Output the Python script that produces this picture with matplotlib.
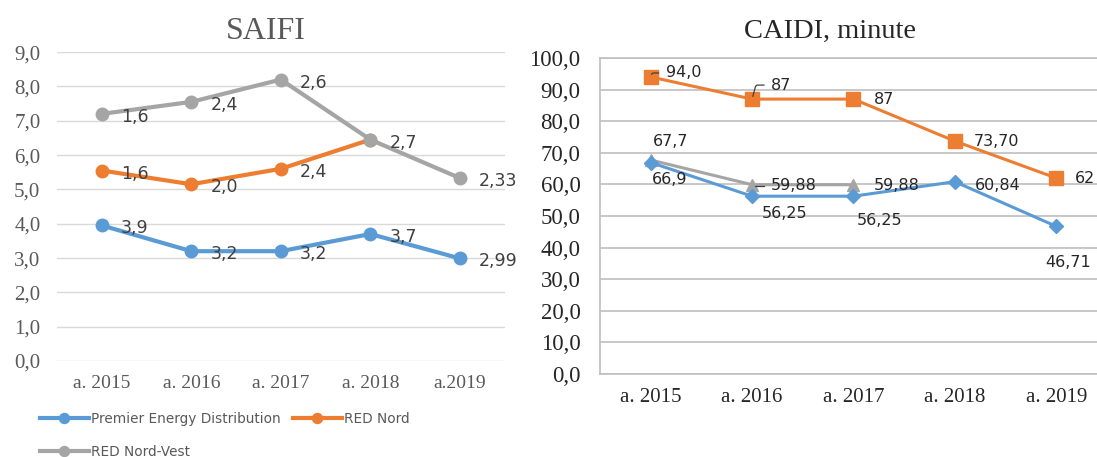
import numpy as np
import matplotlib
matplotlib.use("Agg")
import matplotlib.pyplot as plt

years_left = ["a. 2015", "a. 2016", "a. 2017", "a. 2018", "a.2019"]
years_right = ["a. 2015", "a. 2016", "a. 2017", "a. 2018", "a. 2019"]

# SAIFI (plotted positions and the printed labels, which differ in the original)
saifi_ped = [3.95, 3.2, 3.2, 3.7, 2.99]
saifi_ped_lbl = ["3,9", "3,2", "3,2", "3,7", "2,99"]
saifi_rn = [5.55, 5.15, 5.6, 6.45]
saifi_rn_lbl = ["1,6", "2,0", "2,4", "2,7"]
saifi_rnv = [7.2, 7.55, 8.2, 6.45, 5.33]
saifi_rnv_lbl = ["1,6", "2,4", "2,6", "", "2,33"]

# CAIDI, minute
caidi_ped = [66.9, 56.25, 56.25, 60.84, 46.71]
caidi_ped_lbl = ["66,9", "56,25", "56,25", "60,84", "46,71"]
caidi_rn = [94.0, 87, 87, 73.7, 62]
caidi_rn_lbl = ["94,0", "87", "87", "73,70", "62"]
caidi_rnv = [67.7, 59.88, 59.88]
caidi_rnv_lbl = ["67,7", "59,88", "59,88"]

blue = "#5B9BD5"
orange = "#ED7D31"
gray = "#A5A5A5"
serif = "Liberation Serif"
sans = "DejaVu Sans"

fig = plt.figure(figsize=(10.97, 4.57), dpi=100)

# ---------------- left: SAIFI
ax1 = fig.add_axes([0.052, 0.210, 0.408, 0.676])
x = np.arange(len(years_left))
ax1.plot(x, saifi_ped, color=blue, lw=3, marker="o", ms=9, label="Premier Energy Distribution")
ax1.plot(x[:len(saifi_rn)], saifi_rn, color=orange, lw=3, marker="o", ms=9, label="RED Nord")
ax1.plot(x, saifi_rnv, color=gray, lw=3, marker="o", ms=9, label="RED Nord-Vest")

for vals, lbls in [(saifi_ped, saifi_ped_lbl), (saifi_rn, saifi_rn_lbl), (saifi_rnv, saifi_rnv_lbl)]:
    for i, (v, t) in enumerate(zip(vals, lbls)):
        if t:
            ax1.annotate(t, (x[i], v), xytext=(19, -3), textcoords="offset pixels",
                         ha="left", va="center", fontsize=12.5, color="#404040", family=sans)
ax1.set_xlim(-0.5, 4.5)
ax1.set_ylim(0, 9)
ax1.set_yticks(np.arange(0, 10, 1))
ax1.set_yticklabels([f"{v:.1f}".replace(".", ",") for v in range(10)])
ax1.set_xticks(x)
ax1.set_xticklabels(years_left)
ax1.grid(axis="y", color="#D9D9D9", lw=1)
ax1.set_axisbelow(True)
for s in ax1.spines.values():
    s.set_visible(False)
ax1.tick_params(axis="y", length=0, labelsize=15, labelcolor="#595959", pad=12)
ax1.tick_params(axis="x", length=0, labelsize=14, labelcolor="#595959", pad=10)
for lab in ax1.get_xticklabels() + ax1.get_yticklabels():
    lab.set_family(serif)
fig.text(0.242, 0.932, "SAIFI", family=serif, fontsize=23, color="#595959",
         ha="center", va="center")

h, l = ax1.get_legend_handles_labels()
leg = fig.legend([h[0], h[2], h[1]], [l[0], l[2], l[1]], ncol=2, loc="upper left",
                 bbox_to_anchor=(0.025, 0.125), frameon=False, handlelength=3.6,
                 prop={"family": sans, "size": 9.8}, labelcolor="#595959", markerscale=0.8,
                 columnspacing=0.9, handletextpad=0.15, labelspacing=1.35)

# ---------------- right: CAIDI
ax2 = fig.add_axes([0.547, 0.182, 0.462, 0.691])
x2 = np.arange(len(years_right))
ax2.plot(x2, caidi_ped, color=blue, lw=2.2, marker="D", ms=7, zorder=3)
ax2.plot(x2[:len(caidi_rnv)], caidi_rnv, color=gray, lw=2.2, marker="^", ms=9, zorder=2)
ax2.plot(x2, caidi_rn, color=orange, lw=2.2, marker="s", ms=10, zorder=3)

lab_kw = dict(textcoords="offset pixels", fontsize=11.5, color="#262626", family=sans)
# (dx, dy, ha, va, leader)
rn_pos = [(15, 4, "left", "center", True), (19, 14, "left", "center", True),
          (20, 0, "left", "center", False), (19, 0, "left", "center", False),
          (19, 0, "left", "center", False)]
rnv_pos = [(20, 11, "center", "bottom", False), (19, -1, "left", "center", True),
           (20, -1, "left", "center", False)]
ped_pos = [(19, -9, "center", "top", False), (32, -10, "center", "top", False),
           (26, -17, "center", "top", False), (20, -4, "left", "center", False),
           (12, -29, "center", "top", False)]
for vals, lbls, pos in [(caidi_rn, caidi_rn_lbl, rn_pos), (caidi_rnv, caidi_rnv_lbl, rnv_pos),
                        (caidi_ped, caidi_ped_lbl, ped_pos)]:
    for i, (v, t) in enumerate(zip(vals, lbls)):
        dx, dy, ha, va, leader = pos[i]
        ap = None
        if leader:
            ap = dict(arrowstyle="-", color="#404040", lw=0.9, shrinkA=3, shrinkB=2,
                      connectionstyle="angle,angleA=0,angleB=75,rad=2")
        ax2.annotate(t, (x2[i], v), xytext=(dx, dy), ha=ha, va=va, arrowprops=ap, **lab_kw)

ax2.set_xlim(-0.5, 4.5)
ax2.set_ylim(0, 100)
ax2.set_yticks(np.arange(0, 101, 10))
ax2.set_yticklabels([f"{v:.1f}".replace(".", ",") for v in range(0, 101, 10)])
ax2.set_xticks(x2)
ax2.set_xticklabels(years_right)
ax2.grid(axis="y", color="#BFBFBF", lw=1.2)
ax2.set_axisbelow(True)
for s in ax2.spines.values():
    s.set_color("#BFBFBF")
    s.set_linewidth(1.2)
ax2.tick_params(axis="y", length=0, labelsize=16.5, labelcolor="#262626", pad=14)
ax2.tick_params(axis="x", length=0, labelsize=15, labelcolor="#262626", pad=10)
for lab in ax2.get_xticklabels() + ax2.get_yticklabels():
    lab.set_family(serif)
fig.text(0.757, 0.932, "CAIDI, minute", family=serif, fontsize=20.5, color="#262626",
         ha="center", va="center")

fig.savefig("out.png", dpi=100)
